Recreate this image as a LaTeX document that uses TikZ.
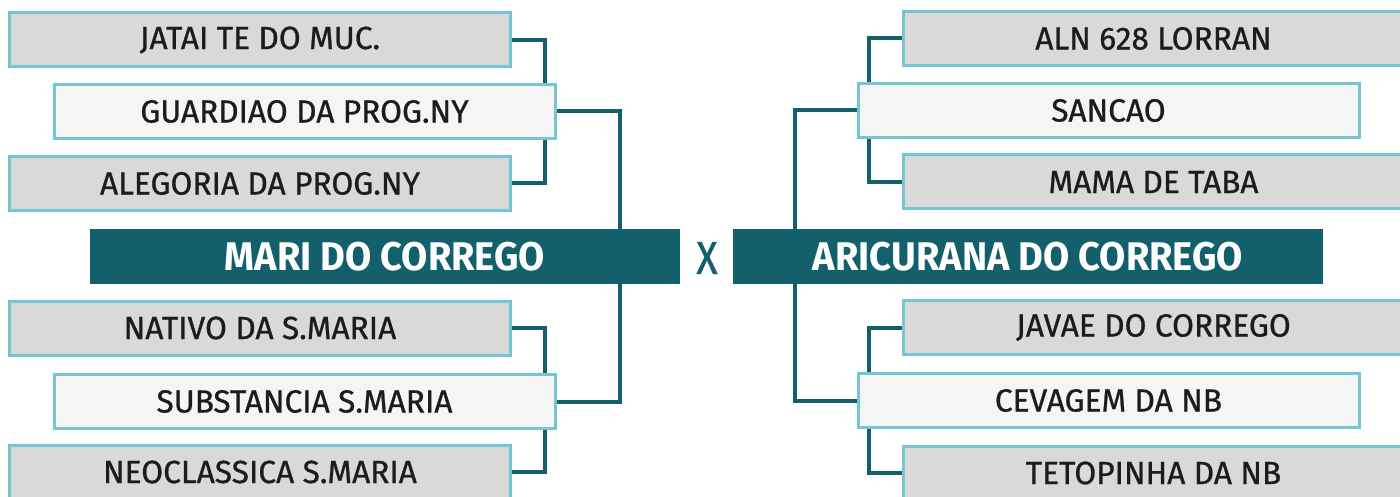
\documentclass[tikz,border=0pt]{standalone}
\usepackage{fontspec}
\setmainfont{Fira Sans}
\usepackage{xcolor}
\usetikzlibrary{backgrounds}
\definecolor{petrol}{HTML}{12606C}
\definecolor{edgeblue}{HTML}{76C5D3}
\definecolor{cellgray}{HTML}{D9D9D9}
\definecolor{cellwhite}{HTML}{F5F5F5}
\definecolor{inkblack}{HTML}{1C1C1C}

\begin{document}
\begin{tikzpicture}[x=1pt, y=-1pt,
    outer/.style={rectangle, draw=edgeblue, line width=3pt, fill=cellgray,
                  minimum width=501pt, minimum height=54pt, inner sep=0pt,
                  text=inkblack, font=\fontsize{32}{36}\selectfont\addfontfeatures{FakeBold=0.8,FakeStretch=0.99}},
    inner/.style={outer, fill=cellwhite},
    title/.style={rectangle, fill=petrol, minimum width=590pt, minimum height=55pt,
                  inner sep=0pt, text=white, font=\fontsize{40}{44}\bfseries\addfontfeatures{FakeStretch=0.95}},
    link/.style={draw=petrol, line width=4pt}
  ]
  \useasboundingbox (0,0) rectangle (1400,497);

  % left half
  \node[outer] (jatai)    at (260,40)    {JATAI TE DO MUC.};
  \node[inner] (guardiao) at (304.5,111.5) {GUARDIAO DA PROG.NY};
  \node[outer] (alegoria) at (260,183.5)  {ALEGORIA DA PROG.NY};
  \node[title] (mari)     at (385,256.5)  {MARI DO CORREGO};
  \node[outer] (nativo)   at (260,328)    {NATIVO DA S.MARIA};
  \node[inner] (substancia) at (304.5,401.5) {SUBSTANCIA S.MARIA};
  \node[outer] (neoclassica) at (260,472)  {NEOCLASSICA S.MARIA};

  \node[text=petrol, font=\fontsize{46}{50}\selectfont\addfontfeatures{FakeBold=1,FakeStretch=0.85}] (versus) at (707,258) {X};

  % right half
  \node[outer] (aln)      at (1153.5,38.5)  {ALN 628 LORRAN};
  \node[inner] (sancao)   at (1108.5,110.5) {SANCAO};
  \node[outer] (mama)     at (1153.5,182)   {MAMA DE TABA};
  \node[title] (aricurana) at (1028,256.5)  {ARICURANA DO CORREGO};
  \node[outer] (javae)    at (1153.5,327.5) {JAVAE DO CORREGO};
  \node[inner] (cevagem)  at (1108.5,400.5) {CEVAGEM DA NB};
  \node[outer] (tetopinha) at (1153.5,473)  {TETOPINHA DA NB};

  \begin{scope}[on background layer]
    \draw[link] (jatai.east) -| ([xshift=-12pt]guardiao.north east);
    \draw[link] (alegoria.east) -| ([xshift=-12pt]guardiao.south east);
    \draw[link] (nativo.east) -| ([xshift=-12pt]substancia.north east);
    \draw[link] (neoclassica.east) -| ([xshift=-12pt]substancia.south east);
    \draw[link] (guardiao.east) -| ([xshift=-60pt]mari.north east);
    \draw[link] (substancia.east) -| ([xshift=-60pt]mari.south east);

    \draw[link] (aln.west) -| ([xshift=12pt]sancao.north west);
    \draw[link] (mama.west) -| ([xshift=12pt]sancao.south west);
    \draw[link] (javae.west) -| ([xshift=12pt]cevagem.north west);
    \draw[link] (tetopinha.west) -| ([xshift=12pt]cevagem.south west);
    \draw[link] (sancao.west) -| ([xshift=62pt]aricurana.north west);
    \draw[link] (cevagem.west) -| ([xshift=62pt]aricurana.south west);
  \end{scope}
\end{tikzpicture}
\end{document}
